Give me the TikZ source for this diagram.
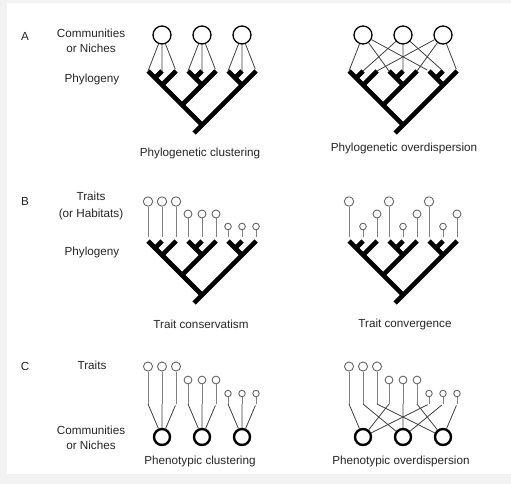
\documentclass[tikz,border=0pt]{standalone}
\usepackage{fontspec}
\setmainfont{Liberation Sans}
\tikzset{
  branch/.style = {line width=4.6pt},
  link/.style = {draw=black!75, line width=0.8pt},
  stem/.style = {draw=black!50, line width=0.8pt},
  comm/.style = {circle, draw, line width=1.3pt, minimum size=18pt, inner sep=0pt},
  bigcomm/.style = {circle, draw, line width=2.4pt, minimum size=16pt, inner sep=0pt},
  trait/.style = {circle, draw=black!60, line width=0.9pt, minimum size=#1, inner sep=0pt},
  txt/.style = {font=\fontsize{11.7}{15}\selectfont, align=center, inner sep=0pt, text=black!85}
}
\newcommand\phylo[3]{%
  \foreach \dx [count=\k] in {-54,-40,-26,-14,0,14,26,40,54}
    \coordinate (#1-\k) at (#2+\dx,#3);
  \draw[branch] (#1-1) -- ++(54,54);
  \draw[branch] (#1-9) -- ++(-62,62);
  \draw[branch] (#1-6) -- ++(-34,34);
  \draw[branch] (#1-3) -- ++(-14,14) (#1-4) -- ++(14,14) (#1-7) -- ++(14,14);
  \draw[branch] (#1-2) -- ++(-7,7) (#1-5) -- ++(-7,7) (#1-8) -- ++(-7,7);
}

\begin{document}
\begin{tikzpicture}[x=1pt,y=-1pt]
  \useasboundingbox (0,0) rectangle (511,484);
  \fill[black!5] (0,0) rectangle (511,484);
  \fill[white] (7,3) rectangle (511,474);

  \node[txt] (la) at (25,36) {A};
  \node[txt] (comma) at (91,40.5) {Communities\\or Niches};
  \node[txt] (phya) at (92,79) {Phylogeny};
  \node[txt] (lb) at (25,201) {B};
  \node[txt] (traitb) at (91,206) {Traits\\[2pt](or Habitats)};
  \node[txt] (phyb) at (92,252) {Phylogeny};
  \node[txt] (lc) at (25,366) {C};
  \node[txt] (traitc) at (92,365) {Traits};
  \node[txt] (commc) at (91,437.5) {Communities\\or Niches};

  \phylo{al}{202}{71}
  \phylo{ar}{403}{71}
  \foreach \x [count=\j] in {162,202,242} \node[comm] (ca\j) at (\x,35) {};
  \foreach \x [count=\j] in {363,403,443} \node[comm] (cb\j) at (\x,35) {};
  \foreach \j/\a/\b/\c in {1/1/2/3,2/4/5/6,3/7/8/9}
    \draw[link, shorten >=2pt] (ca\j) -- (al-\a) (ca\j) -- (al-\b) (ca\j) -- (al-\c);
  \foreach \j/\a/\b/\c in {1/1/4/7,2/2/5/8,3/3/6/9}
    \draw[link, shorten >=2pt] (cb\j) -- (ar-\a) (cb\j) -- (ar-\b) (cb\j) -- (ar-\c);
  \node[txt] (capal) at (200,153) {Phylogenetic clustering};
  \node[txt] (capar) at (404,148) {Phylogenetic overdispersion};

  \phylo{bl}{202}{241}
  \phylo{br}{403}{241}
  \foreach \l [count=\k, evaluate=\l as \y using 189+12.5*\l, evaluate=\l as \d using 10.8-1.4*\l] in {1,1,1,2,2,2,3,3,3} {
    \node[trait=\d pt] (ul\k) at (bl-\k |- 0,\y) {};
    \draw[stem, shorten >=4pt] (ul\k) -- (bl-\k);
  }
  \foreach \l [count=\k, evaluate=\l as \y using 189+12.5*\l, evaluate=\l as \d using 10.8-1.4*\l] in {1,3,2,1,3,2,1,3,2} {
    \node[trait=\d pt] (ur\k) at (br-\k |- 0,\y) {};
    \draw[stem, shorten >=4pt] (ur\k) -- (br-\k);
  }
  \node[txt] (capbl) at (201,324) {Trait conservatism};
  \node[txt] (capbr) at (405,324) {Trait convergence};

  \foreach \dx [count=\k] in {-54,-40,-26,-14,0,14,26,40,54} {
    \coordinate (sl-\k) at (202+\dx,404);
    \coordinate (sr-\k) at (403+\dx,404);
  }
  \foreach \l [count=\k, evaluate=\l as \y using 353+13.5*\l, evaluate=\l as \d using 10.4-1.3*\l] in {1,1,1,2,2,2,3,3,3} {
    \node[trait=\d pt] (vl\k) at (sl-\k |- 0,\y) {};
    \node[trait=\d pt] (vr\k) at (sr-\k |- 0,\y) {};
    \draw[stem] (vl\k) -- (sl-\k);
    \draw[stem] (vr\k) -- (sr-\k);
  }
  \foreach \x [count=\j] in {162,202,242} \node[bigcomm] (cc\j) at (\x,437) {};
  \foreach \x [count=\j] in {363,403,443} \node[bigcomm] (cd\j) at (\x,437) {};
  \foreach \j/\a/\b/\c in {1/1/2/3,2/4/5/6,3/7/8/9}
    \draw[link, shorten <=1.5pt] (sl-\a) -- (cc\j) (sl-\b) -- (cc\j) (sl-\c) -- (cc\j);
  \foreach \j/\a/\b/\c in {1/1/4/7,2/2/5/8,3/3/6/9}
    \draw[link, shorten <=1.5pt] (sr-\a) -- (cd\j) (sr-\b) -- (cd\j) (sr-\c) -- (cd\j);
  \node[txt] (capcl) at (200,461) {Phenotypic clustering};
  \node[txt] (capcr) at (401,461) {Phenotypic overdispersion};
\end{tikzpicture}
\end{document}
